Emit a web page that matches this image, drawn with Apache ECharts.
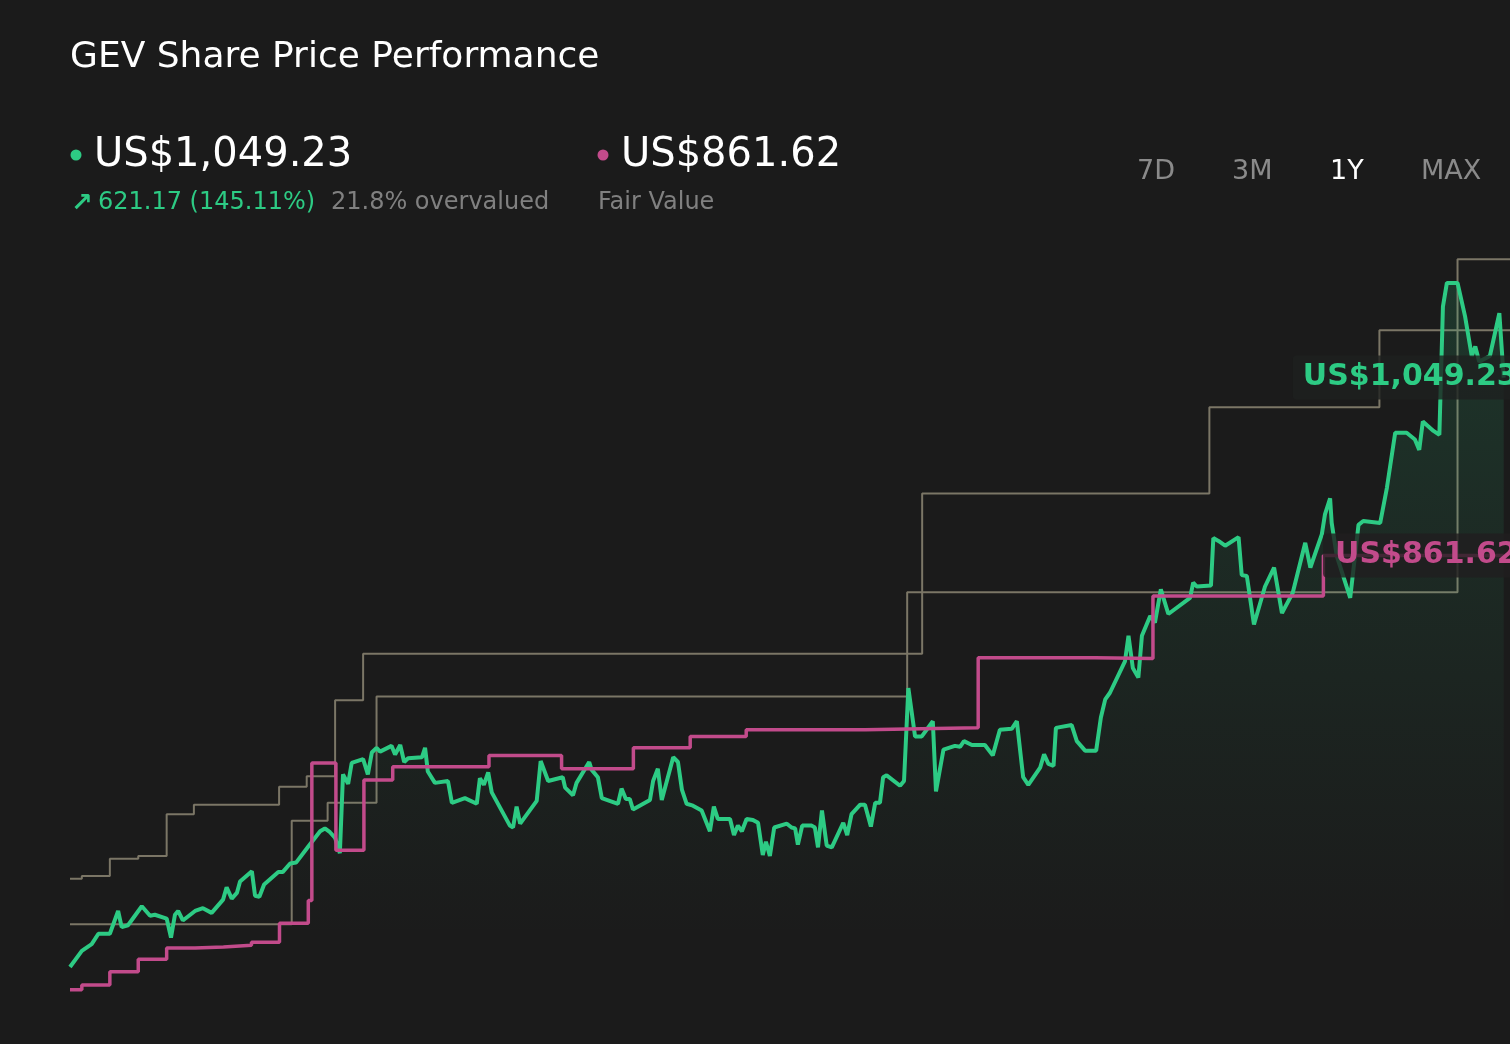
<!DOCTYPE html>
<html>
<head>
<meta charset="utf-8">
<title>GEV Share Price Performance</title>
<script src="https://cdn.jsdelivr.net/npm/echarts@6/dist/echarts.min.js"></script>
<style>
    html, body {
        margin: 0;
        padding: 0;
        background: #1b1b1b;
    }
    #chart {
        width: 1510px;
        height: 1044px;
    }
</style>
</head>
<body>
<div id="chart"></div>
<script>
    // days since start of the 1Y window
    const priceDays = [0, 3, 5.5, 7.2, 10.1, 12.2, 13.1, 14.7, 18.2, 20.3, 21.5, 24.5, 25.6, 26.6, 27.4, 28.6, 31.7, 33.7, 35.9, 38.8,
        39.7, 41, 42.3, 43.1, 46.1, 46.9, 48, 49.2, 52.8, 53.9, 55.8, 57.3, 60.4, 63.4, 64.6, 65.9, 67.2, 68.4, 69.2, 70.5,
        71.4, 74.3, 75.5, 76.5, 77.7, 78.6, 81.5, 82.4, 83.7, 84.7, 85.7, 89.2, 90, 90.7, 92.5, 95.8, 96.8, 100.1, 103.1, 103.9,
        104.9, 106, 106.9, 111.5, 112.3, 113.2, 114.1, 118.3, 119.3, 121.2, 124.9, 125.5, 127.5, 128.4, 131.6, 132.2, 133.8, 134.8, 138.9, 139.8,
        140.9, 141.9, 142.7, 147, 147.8, 149, 150, 152.9, 154.1, 155.1, 156.3, 157.9, 160.1, 162.2, 163.2, 164.2, 167.3, 168.3, 169.3, 170.3,
        171.5, 173.1, 174.4, 175.6, 176.4, 177.4, 178.5, 181.7, 182.9, 183.8, 184.5, 185.6, 188, 188.8, 189.6, 190.6, 191.8, 193.1, 196, 197,
        198.1, 200.3, 201.5, 203, 204.1, 205.3, 206.1, 207, 210.4, 211.4, 212.5, 214.2, 215.9, 218.7, 219.5, 221.4, 224.3, 225.6, 226.6, 228.6,
        231.9, 233.9, 235.7, 238.7, 240, 241.6, 242.9, 245.9, 246.9, 248, 249.3, 249.9, 253.9, 255.2, 257.3, 260.1, 261.3, 262.4, 263.6, 267.4,
        268.3, 269.4, 270.8, 271.7, 273.8, 275, 276.5, 278.4, 283.9, 284.7, 285.6, 289.2, 289.8, 291.1, 292.8, 296.2, 297, 298.3, 300.1, 302.9,
        305.2, 307.2, 309.9, 313.1, 314.4, 317.3, 318.1, 319.4, 319.8, 321.1, 324.5, 326.6, 327.8, 332.1, 333.8, 335.9, 338.8, 340.9, 342, 342.9,
        345.6, 347.1, 348, 349, 351.7, 353.6, 355.3, 356.2, 357.2, 359.9, 362.3, 363.4];
    const prices = [428, 445, 452, 463, 463, 487, 470, 472, 492, 482, 483, 479, 459, 483, 487, 477, 487, 490, 485, 499,
        512, 500, 506, 518, 529, 503, 502, 515, 528, 528, 537, 538, 555, 571, 574, 570, 564, 548, 631, 621,
        643, 647, 631, 654, 659, 655, 661, 652, 662, 644, 648, 649, 659, 634, 622, 624, 601, 606, 600, 627,
        620, 633, 612, 577, 575, 597, 579, 603, 645, 624, 628, 617, 609, 622, 644, 636, 628, 606, 600, 616,
        605, 605, 594, 604, 624, 637, 604, 649, 644, 615, 600, 598, 593, 571, 597, 584, 584, 567, 577, 571,
        584, 583, 580, 546, 560, 545, 575, 579, 575, 574, 557, 577, 577, 575, 554, 593, 556, 554, 580, 567,
        589, 599, 599, 576, 601, 601, 628, 630, 619, 624, 722, 671, 671, 687, 613, 657, 661, 660, 666, 662,
        662, 651, 678, 679, 687, 628, 620, 638, 652, 642, 640, 680, 683, 666, 656, 656, 691, 710, 717, 750,
        777, 743, 733, 777, 798, 791, 826, 800, 817, 833, 829, 830, 880, 877, 872, 881, 841, 840, 789, 829,
        849, 801, 822, 875, 849, 884, 905, 922, 896, 861, 817, 894, 898, 896, 933, 991, 991, 984, 973, 1003,
        993, 989, 1124, 1149, 1149, 1114, 1072, 1082, 1066, 1072, 1117, 1049.23];

    // fair value estimate, changes on these days
    const fairValueDays = [0, 3, 10.1, 17.3, 24.5, 31.7, 38.9, 46, 53.1, 60.4, 61.3, 67.4, 74.5, 81.8, 106.2, 124.6, 142.8, 157.2, 171.4, 201.5,
        230.2, 259.8, 274.5, 317.7, 363.4];
    const fairValues = [404, 409, 423, 436, 448, 449, 451, 454, 474, 498, 643, 551, 625, 639, 651, 637, 659, 671, 678, 680,
        754, 753, 819, 861.62, 861.62];

    // analyst price targets
    const targetHighDays = [0, 3, 10.1, 17.3, 24.5, 31.4, 53, 60, 67.2, 74.3, 216, 288.8, 331.9, 365];
    const targetHigh = [521, 524, 542, 545, 589, 599, 618, 629, 709, 758, 927, 1018, 1099, 1099];
    const targetLowDays = [0, 56.2, 65.3, 77.7, 212.2, 351.7, 365];
    const targetLow = [473, 582, 601, 713, 823, 1174, 1174];

    const rangeButtons = ['7D', '3M', '1Y', 'MAX'];
    const activeRange = '1Y';

    const green = '#2dcb84';
    const pink = '#c24b8b';
    const grey = '#7b7666';
    const font = '"DejaVu Sans", sans-serif';

    function zip(xs, ys) {
        return xs.map((x, i) => [x, ys[i]]);
    }

    let chart = echarts.init(document.getElementById('chart'));
    window.addEventListener('resize', function () {
        chart.resize();
    });

    // header: title, current price, fair value, range switch
    let buttonX = [1137, 1232, 1330, 1421];
    let headerText = [
        {type: 'text', left: 70, top: 40, style: {text: 'GEV Share Price Performance', fill: '#ffffff', font: '36px ' + font}},
        {type: 'circle', shape: {cx: 76, cy: 155, r: 5.5}, style: {fill: green}},
        {type: 'text', left: 94, top: 136, style: {text: 'US$1,049.23', fill: '#ffffff', font: '40px ' + font}},
        {type: 'text', left: 71, top: 191, style: {text: '↗', fill: green, font: 'bold 26px ' + font}},
        {type: 'text', left: 98, top: 191, style: {text: '621.17 (145.11%)', fill: green, font: '24px ' + font}},
        {type: 'text', left: 331, top: 191, style: {text: '21.8% overvalued', fill: '#808080', font: '24px ' + font}},
        {type: 'circle', shape: {cx: 603, cy: 155, r: 5.5}, style: {fill: pink}},
        {type: 'text', left: 621, top: 136, style: {text: 'US$861.62', fill: '#ffffff', font: '40px ' + font}},
        {type: 'text', left: 598, top: 191, style: {text: 'Fair Value', fill: '#808080', font: '24px ' + font}},
    ];
    rangeButtons.forEach((b, i) => {
        headerText.push({
            type: 'text', left: buttonX[i], top: 158,
            style: {text: b, fill: b === activeRange ? '#ffffff' : '#8a8a8a', font: '27px ' + font}
        });
    });

    let option = {
        backgroundColor: '#1b1b1b',
        animation: false,
        graphic: headerText,
        grid: {
            left: 70,
            right: 0,
            top: 234.5,
            bottom: 31.5
        },
        xAxis: {
            type: 'value',
            min: 0,
            max: 365,
            show: false
        },
        yAxis: {
            type: 'value',
            min: 380,
            max: 1200,
            show: false
        },
        series: [
            {
                name: 'Target high',
                type: 'line',
                step: 'end',
                data: zip(targetHighDays, targetHigh),
                showSymbol: false,
                lineStyle: {color: grey, width: 2},
                z: 1
            },
            {
                name: 'Target low',
                type: 'line',
                step: 'end',
                data: zip(targetLowDays, targetLow),
                showSymbol: false,
                lineStyle: {color: grey, width: 2},
                z: 1
            },
            {
                name: 'Share price',
                type: 'line',
                data: zip(priceDays, prices),
                showSymbol: false,
                lineStyle: {color: green, width: 4},
                areaStyle: {
                    origin: 'start',
                    color: new echarts.graphic.LinearGradient(0, 0, 0, 1, [
                        {offset: 0, color: 'rgba(45,203,132,0.22)'},
                        {offset: 0.55, color: 'rgba(45,203,132,0.08)'},
                        {offset: 0.9, color: 'rgba(45,203,132,0)'}
                    ])
                },
                endLabel: {
                    show: true,
                    formatter: 'US$1,049.23',
                    color: green,
                    fontFamily: font,
                    fontWeight: 'bold',
                    fontSize: 30,
                    align: 'right',
                    offset: [16, 0],
                    padding: [7, 10, 7, 10],
                    backgroundColor: 'rgba(30,33,31,0.8)',
                    borderRadius: 4
                },
                z: 3
            },
            {
                name: 'Fair value',
                type: 'line',
                step: 'end',
                data: zip(fairValueDays, fairValues),
                showSymbol: false,
                lineStyle: {color: pink, width: 3.5},
                endLabel: {
                    show: true,
                    formatter: 'US$861.62',
                    color: pink,
                    fontFamily: font,
                    fontWeight: 'bold',
                    fontSize: 30,
                    align: 'right',
                    offset: [16, 0],
                    padding: [7, 10, 7, 12],
                    backgroundColor: 'rgba(32,30,31,0.8)',
                    borderRadius: 4
                },
                z: 4
            }
        ]
    };

    chart.setOption(option);
</script>
</body>
</html>
